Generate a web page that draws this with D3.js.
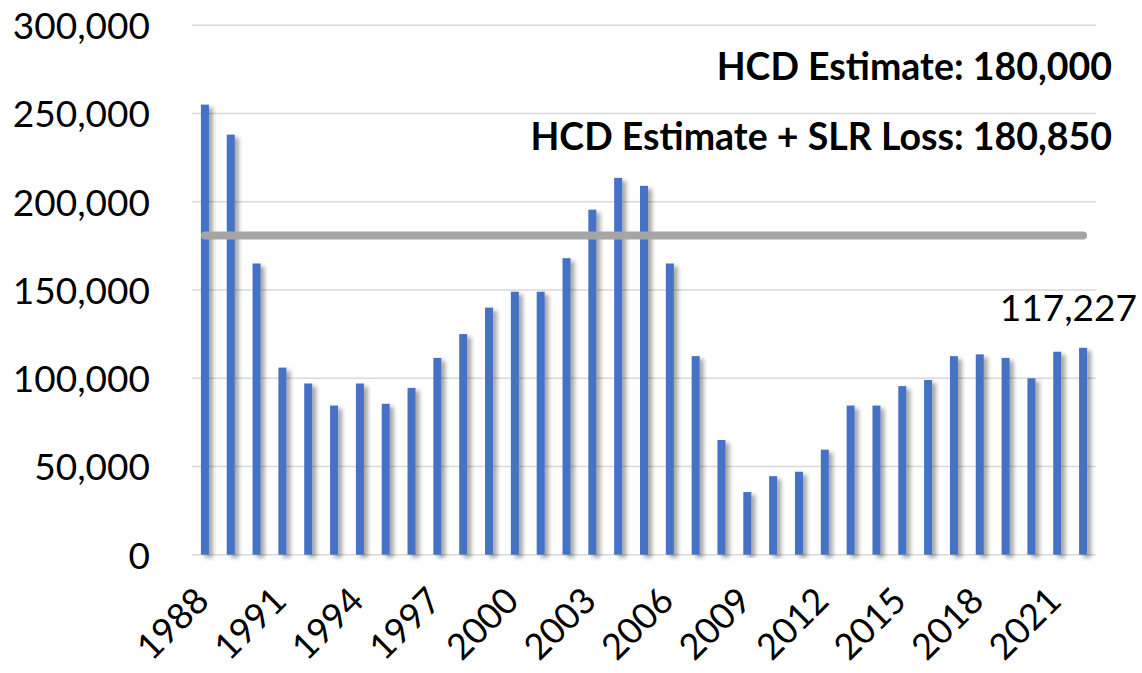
<!DOCTYPE html>
<html><head><meta charset="utf-8">
<script src="https://cdn.jsdelivr.net/npm/d3@7"></script>
<style>
html,body{margin:0;padding:0;background:#fff;}
text{font-family:Lato,"Open Sans",sans-serif;}
</style></head>
<body><svg id="c" width="1142" height="673"></svg>
<script>
const years = d3.range(1988, 2023).map(String);
const units = [255000,238000,165000,106000,97000,84500,97000,85500,94500,111500,125000,140000,149000,149000,168000,195500,213500,209000,165000,112500,65000,35500,44500,47000,59500,84500,84500,95500,99000,112500,113500,111500,100000,115000,117227];
const yTicks = [0,50000,100000,150000,200000,250000,300000];
const xTickYears = ["1988","1991","1994","1997","2000","2003","2006","2009","2012","2015","2018","2021"];
const estimate = 180850;
const lastValue = 117227;
const labels = ["HCD Estimate: 180,000","HCD Estimate + SLR Loss: 180,850"];

const svg = d3.select("#c");
const x = d3.scaleBand().domain(years).range([192,1096]).paddingInner(0.69).paddingOuter(0.345);
const y = d3.scaleLinear().domain([0,300000]).range([554.7,25.2]);

const defs = svg.append("defs");
const f = defs.append("filter").attr("id","sh").attr("x","-50%").attr("y","-5%").attr("width","250%").attr("height","110%");
f.append("feDropShadow").attr("dx",4).attr("dy",3).attr("stdDeviation",2.2).attr("flood-color","#000").attr("flood-opacity",0.35);

// gridlines
svg.append("g").selectAll("line").data(yTicks).join("line")
  .attr("x1",192).attr("x2",1096).attr("y1",d=>y(d)).attr("y2",d=>y(d))
  .attr("stroke","#d9d9d9").attr("stroke-width",1.6);

// y axis labels
const yAxis = svg.append("g").attr("transform","translate(150,0)")
  .call(d3.axisLeft(y).tickValues(yTicks).tickSize(0).tickPadding(0).tickFormat(d3.format(",")));
yAxis.select(".domain").remove();
yAxis.selectAll("text").attr("font-size",37).attr("fill","#000").attr("font-family","Lato").attr("dy","0.36em");

// bars
svg.append("g").selectAll("rect").data(units).join("rect")
  .attr("x",(d,i)=>x(years[i])).attr("width",x.bandwidth())
  .attr("y",d=>y(d)).attr("height",d=>y(0)-y(d))
  .attr("fill","#4472c4").attr("filter","url(#sh)");

// estimate line
svg.append("line")
  .attr("x1",x(years[0])+x.bandwidth()/2).attr("x2",x(years[years.length-1])+x.bandwidth()/2)
  .attr("y1",y(estimate)).attr("y2",y(estimate))
  .attr("stroke","#a5a5a5").attr("stroke-width",8).attr("stroke-linecap","round");

// x axis labels
svg.append("g").selectAll("text").data(xTickYears).join("text")
  .attr("transform",d=>`translate(${x(d)+x.bandwidth()/2+6},603) rotate(-45)`)
  .attr("text-anchor","end").attr("font-size",36).attr("fill","#000").text(d=>d);

// last value label
svg.append("text").attr("x",1137).attr("y",y(lastValue)-27)
  .attr("text-anchor","end").attr("font-size",37).attr("fill","#000").text(d3.format(",")(lastValue));

// annotations
svg.append("text").attr("x",1112).attr("y",80).attr("text-anchor","end")
  .attr("font-size",37.5).attr("font-weight","bold").attr("fill","#000").text(labels[0]);
svg.append("text").attr("x",1112).attr("y",150).attr("text-anchor","end")
  .attr("font-size",37.5).attr("font-weight","bold").attr("fill","#000").text(labels[1]);
</script></body></html>
